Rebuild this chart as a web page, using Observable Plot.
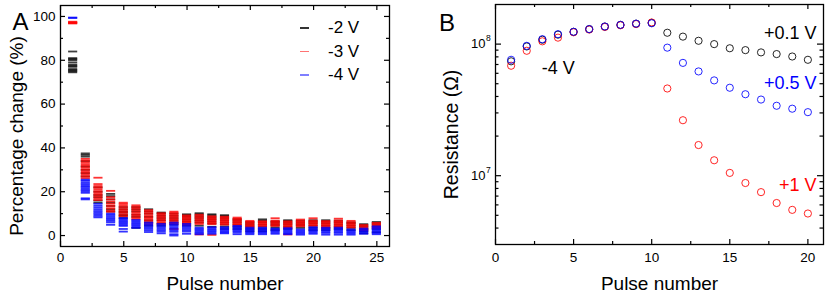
<!DOCTYPE html>
<html><head><meta charset="utf-8">
<script src="https://cdn.jsdelivr.net/npm/d3@7"></script>
<script src="https://cdn.jsdelivr.net/npm/@observablehq/plot@0.6"></script>
<style>
body{margin:0;background:#fff;}
#wrap{position:relative;width:830px;height:294px;font-family:"Liberation Sans",Arial,sans-serif;overflow:hidden;}
#a,#b{position:absolute;top:0;}
#a{left:0}#b{left:410px}
.sw{position:absolute;width:9px;height:1.5px;}
.lt{position:absolute;font-size:17px;line-height:18px;color:#000;white-space:nowrap;}
</style></head><body>
<div id="wrap"><div id="a"></div><div id="b"></div><div id="legend"></div></div>
<script>
// ---------- Panel A data ----------
const pulseA = [1,2,3,4,5,6,7,8,9,10,11,12,13,14,15,16,17,18,19,20,21,22,23,24,25];
const legendLabels = ["-2 V", "-3 V", "-4 V"];
const dashM2V = [
  [84, 81, 80.5, 80, 79, 78, 77.5, 77, 76, 75.5, 75, 74.5],
  [37.5, 36.8, 36, 34, 31.5, 30, 28.5, 27],
  [22, 20, 18.5, 17.5, 16, 15],
  [19, 18, 16.5, 15, 13.5, 12, 11],
  [13, 12, 11, 10.5, 9.5, 9, 8],
  [13, 12, 11, 9.5, 8.5, 3.5],
  [12, 11, 10, 8.5, 7, 6, 4.5],
  [10.5, 10, 9, 8, 7, 5.5, 4.5],
  [10, 9, 8, 7, 6, 5],
  [9.7, 9.2, 8.5, 7.5, 6.5, 5.5, 4.5],
  [10.2, 9.6, 8.8, 8, 7, 6, 4.5],
  [9.7, 9.2, 8.4, 7.5, 6.5, 5.5, 4],
  [9.3, 8.8, 8, 7, 6, 5, 4, 3],
  [7.5, 6.8, 6, 5, 4, 3],
  [6.2, 5.5, 4.8, 4, 3, 2],
  [7.4, 6.8, 6, 5, 4, 3, 2],
  [6.5, 6, 5.2, 4.5, 3.5, 2.5],
  [7, 6.5, 5.8, 5, 4, 3],
  [6.8, 6, 5.2, 4.5, 3.5],
  [7, 6.3, 5.5, 4.5, 3.5, 2.5],
  [7, 6.3, 5.5, 4.5, 3.5, 2.5],
  [6.8, 6, 5, 4, 3],
  [6, 5.5, 4.5, 3.5, 2.5],
  [5.2, 4.6, 4, 3, 2, 1],
  [6.2, 5.6, 4.8, 4, 3, 1.5]
];
const dashM3V = [
  [97.6, 97.3, 97, 96.8],
  [35, 34.2, 33.4, 32.6, 31.8, 31, 30.2, 29.4, 28.6, 27.8, 27, 26.2],
  [26.4, 23.5, 22.6, 21.8, 21, 20.2, 19.4, 18.6, 17.8, 17, 16.2],
  [20.4, 17.5, 16.5, 15.5, 14.5, 13.5, 12.5, 11.5, 10.8],
  [15, 14.4, 13.6, 12.8, 12, 11.2, 10.4, 9.6, 8.8],
  [13.8, 13, 12.2, 11.4, 10.6, 9.8, 9, 8.2, 7.5],
  [11.6, 10.8, 10, 9.2, 8.4, 7.6, 6.8, 6, 5.2],
  [10.2, 9.5, 8.8, 8.1, 7.4, 6.7, 6, 5.3],
  [10.9, 10.3, 9.6, 8.9, 8.2, 7.5, 6.8, 6.1, 5.4, 3],
  [9.2, 8.6, 8, 7.4, 6.8, 6.2, 5.6, 5],
  [9.5, 8.8, 8.1, 7.4, 6.7, 6, 5.3, 0.5],
  [8.8, 8.2, 7.6, 7, 6.4, 5.8, 5.2, 0.3],
  [8.6, 8, 7.4, 6.8, 6.2, 5.6, 5],
  [8.2, 7.6, 7, 6.4, 5.8, 5.2, 4.6],
  [6.7, 6.2, 5.6, 5, 4.4, 3.8],
  [6.5, 6, 5.4, 4.8, 4.2],
  [7.9, 6.8, 6.2, 5.6, 5, 4.4],
  [6.5, 5.9, 5.3, 4.7, 4.1, 3.5, 0.5],
  [7.3, 6.6, 6, 5.4, 4.8, 4.2],
  [7.9, 6.8, 6.2, 5.6, 5, 4.4],
  [6.6, 6, 5.4, 4.8, 4.2, 3.6],
  [7.7, 6.8, 6.2, 5.6, 5, 4.4, 3.8],
  [6.7, 6, 5.4, 4.8, 4.2, 3.6],
  [4.8, 4.2, 3.6, 3, 2.4],
  [5.8, 5.2, 4.6, 4, 3.4]
];
const dashM4V = [
  [99.5, 99.3],
  [25.5, 25, 24.2, 23.5, 22.8, 22.2, 21.5, 20.8, 20.2, 19.5, 17, 16.5],
  [14.5, 13.6, 12.8, 12, 11.2, 10.5, 9.8, 9, 8.3],
  [10, 9.4, 8.7, 8, 7.4, 6.7, 6, 4.9],
  [8, 7.4, 6.8, 6.2, 5.6, 5, 4.4, 3, 1.8],
  [7.1, 6.5, 5.9, 5.3, 4.7, 4.1, 3.5],
  [5.9, 5.2, 4.5, 3.8, 3.1, 2.4, 1.6],
  [5.3, 4.6, 3.9, 3.2, 2.5, 1.8, 1],
  [5.9, 5.2, 4.5, 3.8, 3.1, 2.4, 1.7, 0.6, 0],
  [5.3, 4.6, 3.9, 3.2, 2.5, 1.8, 0.8],
  [3.6, 3, 2.4, 1.8, 1.2, 0.6],
  [3.8, 3.2, 2.6, 2, 1.4, 0.8],
  [3.8, 3.2, 2.6, 2, 1.4, 1],
  [4.4, 3.8, 3.2, 2.6, 2, 1.4, 0.6],
  [3.6, 3, 2.4, 1.8, 1.2, 0.6],
  [3.6, 3, 2.4, 1.8, 1.2, 0.6],
  [3.2, 2.6, 2, 1.4, 0.8],
  [3.4, 2.8, 2.2, 1.6, 1, 0.6],
  [2.8, 2.2, 1.6, 1, 0.4],
  [3.8, 3.2, 2.6, 2, 1.4, 0.8],
  [3.6, 3, 2.4, 1.8, 1.2, 0.4],
  [3.6, 3, 2.4, 1.8, 1.2, 0.4],
  [2.8, 2.2, 1.6, 1, 0.4],
  [3.2, 2.6, 2, 1.4, 0.8],
  [4.2, 3.6, 3, 2.4, 1.8, 1.2, 0.6]
];
const xTickLabelsA = [0, 5, 10, 15, 20, 25];
const xMinorA = [2.5, 7.5, 12.5, 17.5, 22.5];
const yTickLabelsA = [0, 20, 40, 60, 80, 100];
const yMinorA = [10, 30, 50, 70, 90];

// ---------- Panel B data ----------
const pulseB = [1,2,3,4,5,6,7,8,9,10,11,12,13,14,15,16,17,18,19,20];
const resP01 = [7.4e7, 9.6e7, 1.08e8, 1.18e8, 1.24e8, 1.30e8, 1.36e8, 1.40e8, 1.43e8, 1.45e8,
                1.22e8, 1.14e8, 1.06e8, 1.0e8, 9.3e7, 9.0e7, 8.65e7, 8.4e7, 8.05e7, 7.6e7];
const resP1 = [6.85e7, 8.9e7, 1.05e8, 1.12e8, 1.23e8, 1.29e8, 1.35e8, 1.39e8, 1.42e8, 1.46e8,
               4.6e7, 2.64e7, 1.71e7, 1.31e7, 1.05e7, 8.8e6, 7.5e6, 6.2e6, 5.5e6, 5.16e6];
const resP05 = [7.6e7, 9.7e7, 1.09e8, 1.19e8, 1.24e8, 1.30e8, 1.36e8, 1.40e8, 1.43e8, 1.44e8,
                9.4e7, 7.2e7, 6.2e7, 5.3e7, 4.66e7, 4.16e7, 3.79e7, 3.4e7, 3.23e7, 3.04e7];
const xTickLabelsB = [0, 5, 10, 15, 20];
const xMinorB = [2.5, 7.5, 12.5, 17.5];
const yMajorB = [1e7, 1e8];
const yMinorB = [4e6, 5e6, 6e6, 7e6, 8e6, 9e6, 2e7, 3e7, 4e7, 5e7, 6e7, 7e7, 8e7, 9e7];

const FONT = "Liberation Sans, Arial, Helvetica, sans-serif";

// ---------- Panel A ----------
function rowsOf(values) {
  return pulseA.flatMap((p, i) => values[i].map(v => ({pulse: p, value: v})));
}
const WA = 410, HA = 294, mlA = 60, mrA = 21, mtA = 5, mbA = 48;
const fwA = WA - mlA - mrA, fhA = HA - mtA - mbA;
const dashHalf = 0.36;
function dashMark(values, color, op) {
  return Plot.ruleY(rowsOf(values), {y: "value", x1: d => d.pulse - dashHalf, x2: d => d.pulse + dashHalf,
    stroke: color, strokeWidth: 1.8, strokeOpacity: op});
}
const tickStyle = {stroke: "#000", strokeWidth: 1.2};
const chartA = Plot.plot({
  width: WA, height: HA, marginLeft: mlA, marginRight: mrA, marginTop: mtA, marginBottom: mbA,
  style: {fontFamily: FONT, fontSize: "13px", background: "white", overflow: "visible"},
  x: {domain: [0, 26], axis: null},
  y: {domain: [-5, 105], axis: null},
  marks: [
    dashMark(dashM2V, "#000000", 0.75),
    dashMark(dashM3V, "#ff0000", 0.8),
    dashMark(dashM4V, "#0000ff", 0.8),
    Plot.frame({stroke: "#000", strokeWidth: 1.3}),
    Plot.tickY(yTickLabelsA, {y: d => d, insetRight: fwA - 5, ...tickStyle}),
    Plot.tickY(yTickLabelsA, {y: d => d, insetLeft: fwA - 5, ...tickStyle}),
    Plot.tickY(yMinorA, {y: d => d, insetRight: fwA - 3, ...tickStyle}),
    Plot.tickY(yMinorA, {y: d => d, insetLeft: fwA - 3, ...tickStyle}),
    Plot.tickX(xTickLabelsA, {x: d => d, insetTop: fhA - 5, ...tickStyle}),
    Plot.tickX(xTickLabelsA, {x: d => d, insetBottom: fhA - 5, ...tickStyle}),
    Plot.tickX(xMinorA, {x: d => d, insetTop: fhA - 3, ...tickStyle}),
    Plot.tickX(xMinorA, {x: d => d, insetBottom: fhA - 3, ...tickStyle}),
    Plot.text(yTickLabelsA, {y: d => d, text: d => String(d), frameAnchor: "left", textAnchor: "end", lineAnchor: "middle", dx: -5, fontSize: 13.5, fill: "#000"}),
    Plot.text(xTickLabelsA, {x: d => d, text: d => String(d), frameAnchor: "bottom", textAnchor: "middle", lineAnchor: "middle", dy: 11, fontSize: 13.5, fill: "#000"}),
    Plot.text(["Pulse number"], {frameAnchor: "bottom", textAnchor: "middle", lineAnchor: "middle", dy: 37, fontSize: 19, fill: "#000"}),
    Plot.text(["Percentage change (%)"], {frameAnchor: "left", rotate: -90, textAnchor: "middle", lineAnchor: "middle", dx: -44, dy: 10, fontSize: 19, fill: "#000"}),
    Plot.text(["A"], {frameAnchor: "top-left", textAnchor: "middle", lineAnchor: "top", dx: -40, dy: 7, fontSize: 24, fill: "#000"})
  ]
});
document.getElementById("a").append(chartA);

// legend for panel A
const legendColors = ["rgba(0,0,0,0.8)", "rgba(255,0,0,0.55)", "rgba(0,0,255,0.5)"];
const legendY = [28, 51.5, 75];
const leg = document.getElementById("legend");
legendLabels.forEach((lab, i) => {
  const s = document.createElement("div");
  s.className = "sw"; s.style.left = "300px"; s.style.top = (legendY[i] - 0.75) + "px"; s.style.background = legendColors[i];
  const t = document.createElement("div");
  t.className = "lt"; t.style.left = "328px"; t.style.top = (legendY[i] - 9) + "px"; t.textContent = lab;
  leg.append(s, t);
});

// ---------- Panel B ----------
const WB = 420, HB = 294, mlB = 85, mrB = 7, mtB = 4, mbB = 50;
const fwB = WB - mlB - mrB, fhB = HB - mtB - mbB;
const rowsB = (vals) => pulseB.map((p, i) => ({pulse: p, r: vals[i]}));
const circleMark = (vals, color) => Plot.dot(rowsB(vals), {x: "pulse", y: "r", r: 3.6, stroke: color, strokeWidth: 1, strokeOpacity: 0.85, fill: "none"});
const chartB = Plot.plot({
  width: WB, height: HB, marginLeft: mlB, marginRight: mrB, marginTop: mtB, marginBottom: mbB,
  style: {fontFamily: FONT, fontSize: "13px", background: "white", overflow: "visible"},
  x: {domain: [0, 21], axis: null},
  y: {type: "log", domain: [3e6, 2e8], axis: null},
  marks: [
    circleMark(resP01, "#000000"),
    circleMark(resP1, "#ff0000"),
    circleMark(resP05, "#0000ff"),
    Plot.frame({stroke: "#000", strokeWidth: 1.3}),
    Plot.tickY(yMajorB, {y: d => d, insetRight: fwB - 6, ...tickStyle}),
    Plot.tickY(yMajorB, {y: d => d, insetLeft: fwB - 6, ...tickStyle}),
    Plot.tickY(yMinorB, {y: d => d, insetRight: fwB - 3.5, ...tickStyle}),
    Plot.tickY(yMinorB, {y: d => d, insetLeft: fwB - 3.5, ...tickStyle}),
    Plot.tickX(xTickLabelsB, {x: d => d, insetTop: fhB - 5, ...tickStyle}),
    Plot.tickX(xTickLabelsB, {x: d => d, insetBottom: fhB - 5, ...tickStyle}),
    Plot.tickX(xMinorB, {x: d => d, insetTop: fhB - 3, ...tickStyle}),
    Plot.tickX(xMinorB, {x: d => d, insetBottom: fhB - 3, ...tickStyle}),
    Plot.text(yMajorB, {y: d => d, text: () => "10", frameAnchor: "left", textAnchor: "end", lineAnchor: "middle", dx: -10, fontSize: 13, fill: "#000"}),
    Plot.text(yMajorB, {y: d => d, text: d => String(Math.round(Math.log10(d))), frameAnchor: "left", textAnchor: "start", lineAnchor: "middle", dx: -9.5, dy: -5.5, fontSize: 8.5, fill: "#000"}),
    Plot.text(xTickLabelsB, {x: d => d, text: d => String(d), frameAnchor: "bottom", textAnchor: "middle", lineAnchor: "middle", dy: 13, fontSize: 13.5, fill: "#000"}),
    Plot.text(["Pulse number"], {frameAnchor: "bottom", textAnchor: "middle", lineAnchor: "middle", dy: 39, fontSize: 19, fill: "#000"}),
    Plot.text(["Resistance (Ω)"], {frameAnchor: "left", rotate: -90, textAnchor: "middle", lineAnchor: "middle", dx: -44, dy: 10, fontSize: 19.5, fill: "#000"}),
    Plot.text(["B"], {frameAnchor: "top-left", textAnchor: "middle", lineAnchor: "top", dx: -48.5, dy: 9, fontSize: 24, fill: "#000"}),
    Plot.text([{x: 4.02, y: 6.5e7, t: "-4 V"}], {x: "x", y: "y", text: "t", textAnchor: "middle", lineAnchor: "middle", fontSize: 18, fill: "#000"}),
    Plot.text([{x: 20.55, y: 1.2e8, t: "+0.1 V"}], {x: "x", y: "y", text: "t", textAnchor: "end", lineAnchor: "middle", fontSize: 18, fill: "#000"}),
    Plot.text([{x: 20.55, y: 5.0e7, t: "+0.5 V"}], {x: "x", y: "y", text: "t", textAnchor: "end", lineAnchor: "middle", fontSize: 18, fill: "#0000ff"}),
    Plot.text([{x: 20.55, y: 8.5e6, t: "+1 V"}], {x: "x", y: "y", text: "t", textAnchor: "end", lineAnchor: "middle", fontSize: 18, fill: "#ff0000"})
  ]
});
document.getElementById("b").append(chartB);
</script>
</body></html>
